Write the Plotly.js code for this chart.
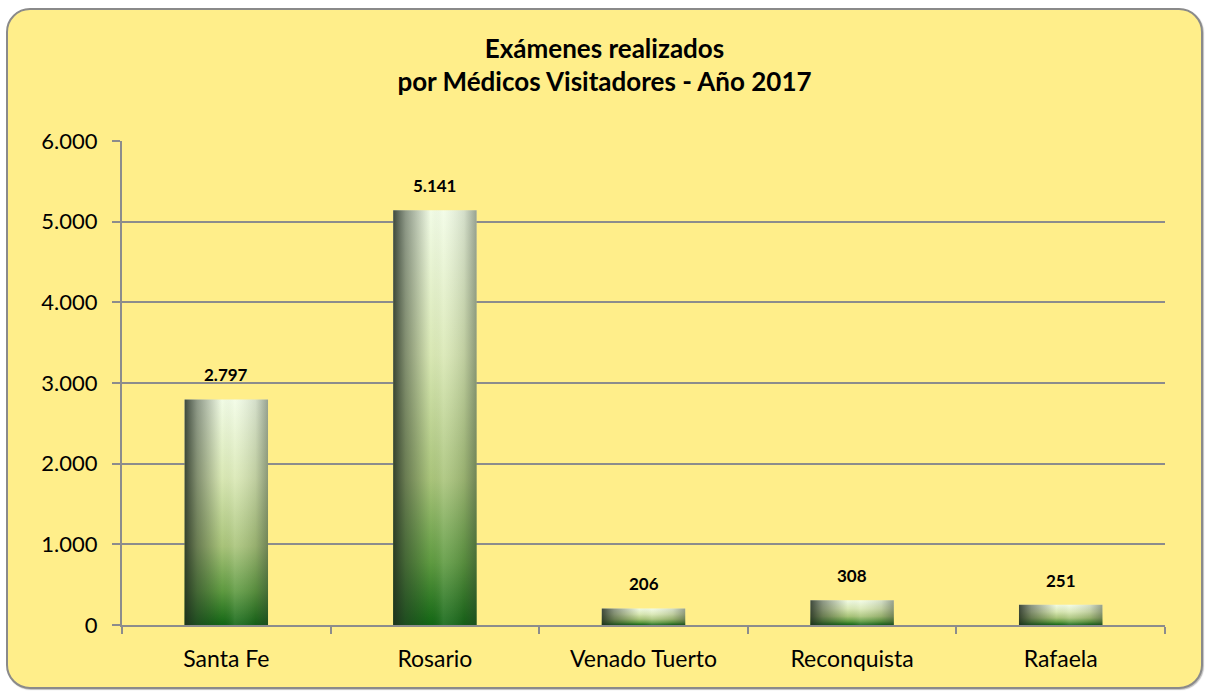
<!DOCTYPE html>
<html>
<head>
<meta charset="utf-8">
<script src="https://cdn.plot.ly/plotly-3.0.1.min.js"></script>
<style>
  html, body { margin:0; padding:0; background:#ffffff; width:1209px; height:694px; overflow:hidden; }
  #frame { position:absolute; left:6px; top:8px; width:1197px; height:681px; box-sizing:border-box;
           border:2px solid #8a8a8a; border-radius:24px; background:#FFEE8A;
           box-shadow: 1px 1px 1px rgba(0,0,0,0.25); }
  #chart { position:absolute; left:0; top:0; width:1209px; height:694px; }
</style>
</head>
<body>
<div id="frame"></div>
<div id="chart"></div>
<svg width="0" height="0" style="position:absolute">
  <defs>
    <linearGradient id="gradV" x1="0" y1="0" x2="0" y2="1">
      <stop offset="0" stop-color="#F2FCE6"/>
      <stop offset="0.35" stop-color="#D9E8B4"/>
      <stop offset="0.65" stop-color="#A9C47A"/>
      <stop offset="0.85" stop-color="#5E9A40"/>
      <stop offset="1" stop-color="#126614"/>
    </linearGradient>
    <linearGradient id="gradH" x1="0" y1="0" x2="1" y2="0">
      <stop offset="0" stop-color="#1f2a1f" stop-opacity="0.85"/>
      <stop offset="0.15" stop-color="#2a352a" stop-opacity="0.5"/>
      <stop offset="0.45" stop-color="#2a352a" stop-opacity="0"/>
      <stop offset="0.6" stop-color="#ffffff" stop-opacity="0.1"/>
      <stop offset="0.85" stop-color="#2a352a" stop-opacity="0.15"/>
      <stop offset="1" stop-color="#2a352a" stop-opacity="0.45"/>
    </linearGradient>
  </defs>
</svg>
<script>
const categories = ["Santa Fe", "Rosario", "Venado Tuerto", "Reconquista", "Rafaela"];
const examenes = [2797, 5141, 206, 308, 251];
const yTicks = [0, 1000, 2000, 3000, 4000, 5000, 6000];

const fontFam = "Lato, 'Open Sans', 'DejaVu Sans', sans-serif";

const base = {
  type: 'bar', x: categories, y: examenes, width: 0.4,
  marker: { color: '#A9C47A', line: { width: 0 } },
  hoverinfo: 'skip', showlegend: false
};
const traces = [
  Object.assign({}, base),
  Object.assign({}, base, { marker: { color: 'rgba(0,0,0,0.3)', line: { width: 0 } } })
];

const fmt = v => String(v).replace(/\B(?=(\d{3})+(?!\d))/g, '.');
const labels = categories.map((c, i) => ({
  x: c, y: examenes[i], xref: 'x', yref: 'y',
  text: '<b>' + fmt(examenes[i]) + '</b>', showarrow: false,
  yanchor: 'bottom', yshift: 12,
  font: { family: fontFam, size: 17, color: '#000000' }
}));

const layout = {
  width: 1209, height: 694,
  paper_bgcolor: 'rgba(0,0,0,0)', plot_bgcolor: 'rgba(0,0,0,0)',
  separators: ',.',
  barmode: 'overlay',
  margin: { l: 122, r: 44, t: 141, b: 69 },
  font: { family: fontFam, color: '#000000' },
  title: {
    text: '<b>Exámenes realizados</b><br><b>por Médicos Visitadores - Año 2017</b>',
    x: 0.5, xanchor: 'center', yref: 'container', y: 0.917, yanchor: 'top',
    font: { family: fontFam, size: 26, color: '#000000' }
  },
  annotations: labels,
  xaxis: {
    type: 'category', showline: true, linecolor: '#8c8c8c', linewidth: 2,
    ticks: 'outside', tickson: 'boundaries', ticklen: 7, tickcolor: '#8c8c8c', tickwidth: 2,
    ticklabelstandoff: 12,
    tickfont: { family: fontFam, size: 23, color: '#000000' }, showgrid: false
  },
  yaxis: {
    range: [0, 6000], tickvals: yTicks, separatethousands: true, tickformat: ',d',
    showline: true, linecolor: '#8c8c8c', linewidth: 2,
    ticks: 'outside', ticklen: 8, tickcolor: '#8c8c8c', tickwidth: 2,
    ticklabelstandoff: 10,
    showgrid: true, gridcolor: '#8c8c8c', gridwidth: 2, zeroline: false,
    tickfont: { family: fontFam, size: 22, color: '#000000' }
  }
};

Plotly.newPlot('chart', traces, layout, { staticPlot: true }).then(function(gd) {
  const groups = gd.querySelectorAll('.barlayer .trace');
  if (groups[0]) groups[0].querySelectorAll('path').forEach(p => { p.style.fill = 'url(#gradV)'; p.style.fillOpacity = 1; });
  if (groups[1]) groups[1].querySelectorAll('path').forEach(p => { p.style.fill = 'url(#gradH)'; p.style.fillOpacity = 1; });
});
</script>
</body>
</html>
